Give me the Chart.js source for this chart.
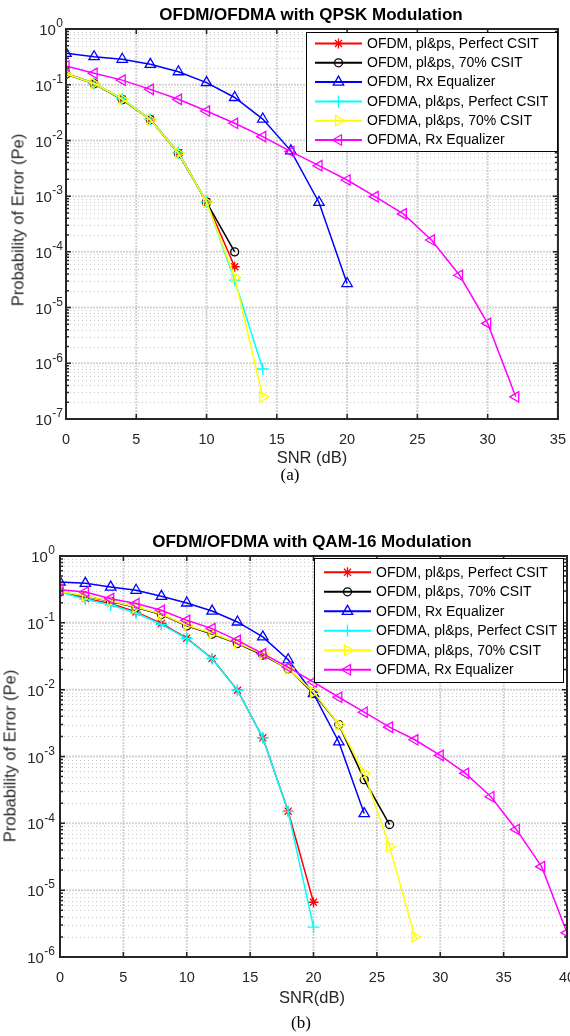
<!DOCTYPE html>
<html>
<head>
<meta charset="utf-8">
<script src="https://cdn.jsdelivr.net/npm/chart.js@4/dist/chart.umd.min.js"></script>
<style>
  html, body { margin:0; padding:0; background:#fff; width:570px; height:1036px; overflow:hidden; }
  .wrap { position:absolute; left:0; }
  .t { position:absolute; transform:translate(-50%,-50%); white-space:nowrap; font-family:"Liberation Sans", Arial, sans-serif; color:#262626; }
  .ttl { font-weight:bold; font-size:17px; color:#000; }
  .ax { font-size:16.5px; }
  .yl { transform:translate(-50%,-50%) rotate(-90deg); }
  .cap { font-family:"Liberation Serif", "Times New Roman", serif; font-size:17px; color:#000; }
</style>
</head>
<body>
<div class="wrap" style="top:0;width:570px;height:480px;"><canvas id="c1" width="570" height="480"></canvas></div>
<div class="wrap" style="top:520px;width:580px;height:500px;"><canvas id="c2" width="580" height="500"></canvas></div>

<div class="t ttl" style="left:311px;top:15px;">OFDM/OFDMA with QPSK Modulation</div>
<div class="t ax" style="left:312px;top:457px;">SNR (dB)</div>
<div class="t ax yl" style="left:18px;top:220px;">Probability of Error (Pe)</div>
<div class="t cap" style="left:290px;top:475px;">(a)</div>

<div class="t ttl" style="left:312px;top:542px;">OFDM/OFDMA with QAM-16 Modulation</div>
<div class="t ax" style="left:312px;top:997px;">SNR(dB)</div>
<div class="t ax yl" style="left:10px;top:756px;">Probability of Error (Pe)</div>
<div class="t cap" style="left:301px;top:1023px;">(b)</div>

<script>
// ---------------- DATA ----------------
const seriesLabels = ['OFDM, pl&ps, Perfect CSIT','OFDM, pl&ps, 70% CSIT','OFDM, Rx Equalizer',
                      'OFDMA, pl&ps, Perfect CSIT','OFDMA, pl&ps, 70% CSIT','OFDMA, Rx Equalizer'];
const snrQpsk = [0,2,4,6,8,10,12,14,16,18,20,22,24,26,28,30,32];
const qpskOfdmPerfect  = [0.16, 0.106, 0.055, 0.024, 0.006, 0.00079, 5.4e-5];
const qpskOfdm70       = [0.155, 0.104, 0.054, 0.0235, 0.0058, 0.00078, 1.0e-4];
const qpskOfdmRx       = [0.366, 0.318, 0.286, 0.232, 0.171, 0.109, 0.059, 0.0242, 0.0065, 0.00077, 2.7e-5];
const qpskOfdmaPerfect = [0.158, 0.105, 0.056, 0.0238, 0.006, 0.00079, 3.1e-5, 7.9e-7];
const qpskOfdma70      = [0.156, 0.105, 0.055, 0.0235, 0.0059, 0.00078, 3.5e-5, 2.5e-7];
const qpskOfdmaRx      = [0.217, 0.16, 0.121, 0.0826, 0.0547, 0.0337, 0.0203, 0.0117, 0.0063, 0.00352, 0.00195, 0.00098, 0.00048, 0.000163, 3.8e-5, 5.2e-6, 2.5e-7];

const snrQam = [0,2,4,6,8,10,12,14,16,18,20,22,24,26,28,30,32,34,36,38,40];
const qamOfdmPerfect  = [0.296, 0.232, 0.195, 0.145, 0.098, 0.059, 0.0293, 0.0098, 0.0019, 1.52e-4, 6.6e-6];
const qamOfdm70       = [0.29, 0.25, 0.21, 0.17, 0.133, 0.09, 0.068, 0.049, 0.033, 0.0205, 0.0088, 0.003, 4.5e-4, 9.6e-5];
const qamOfdmRx       = [0.408, 0.39, 0.343, 0.307, 0.249, 0.198, 0.150, 0.103, 0.0615, 0.028, 0.0087, 0.00165, 1.4e-4];
const qamOfdmaPerfect = [0.29, 0.225, 0.185, 0.14, 0.095, 0.058, 0.029, 0.0098, 0.0019, 1.5e-4, 2.8e-6];
const qamOfdma70      = [0.295, 0.252, 0.212, 0.172, 0.135, 0.092, 0.07, 0.05, 0.034, 0.0205, 0.0092, 0.003, 5.6e-4, 4.5e-5, 2.0e-6];
const qamOfdmaRx      = [0.314, 0.289, 0.23, 0.194, 0.154, 0.109, 0.082, 0.0547, 0.0346, 0.0218, 0.013, 0.0077, 0.0046, 0.00275, 0.00178, 0.00104, 5.6e-4, 2.5e-4, 8.1e-5, 2.25e-5, 2.3e-6];

const xTicksQpsk = [0,5,10,15,20,25,30,35];
const xTicksQam  = [0,5,10,15,20,25,30,35,40];

// ---------------- STYLES ----------------
const styles = [
  {color:'#ff0000', pointStyle:'star',     radius:5, rotation:0},
  {color:'#000000', pointStyle:'circle',   radius:4, rotation:0},
  {color:'#0000ff', pointStyle:'triangle', radius:6, rotation:0},
  {color:'#00ffff', pointStyle:'cross',    radius:6, rotation:0},
  {color:'#ffff00', pointStyle:'triangle', radius:6, rotation:90},
  {color:'#ff00ff', pointStyle:'triangle', radius:6, rotation:-90}
];

function makeDatasets(snr, seriesList) {
  return seriesList.map((vals, i) => ({
    label: seriesLabels[i],
    data: vals.map((v, k) => ({x: snr[k], y: v})),
    borderColor: styles[i].color,
    backgroundColor: 'rgba(0,0,0,0)',
    pointBorderColor: styles[i].color,
    pointBackgroundColor: 'rgba(0,0,0,0)',
    pointStyle: styles[i].pointStyle,
    pointRotation: styles[i].rotation,
    pointRadius: styles[i].radius,
    pointHoverRadius: styles[i].radius,
    pointBorderWidth: 1.3,
    borderWidth: 1.5,
    tension: 0,
    order: seriesList.length - i
  }));
}

function drawMarker(ctx, st, x, y) {
  const r = st.radius;
  ctx.save();
  ctx.strokeStyle = st.color;
  ctx.lineWidth = 1.3;
  ctx.beginPath();
  if (st.pointStyle === 'circle') {
    ctx.arc(x, y, r, 0, Math.PI*2);
  } else if (st.pointStyle === 'triangle') {
    let a = st.rotation * Math.PI/180;
    for (let k=0;k<3;k++) {
      const px = x + Math.sin(a)*r, py = y - Math.cos(a)*r;
      if (k===0) ctx.moveTo(px,py); else ctx.lineTo(px,py);
      a += 2*Math.PI/3;
    }
    ctx.closePath();
  } else if (st.pointStyle === 'cross') {
    ctx.moveTo(x-r,y); ctx.lineTo(x+r,y); ctx.moveTo(x,y-r); ctx.lineTo(x,y+r);
  } else if (st.pointStyle === 'star') {
    ctx.moveTo(x-r,y); ctx.lineTo(x+r,y); ctx.moveTo(x,y-r); ctx.lineTo(x,y+r);
    const d = r*Math.SQRT1_2;
    ctx.moveTo(x-d,y-d); ctx.lineTo(x+d,y+d); ctx.moveTo(x-d,y+d); ctx.lineTo(x+d,y-d);
  }
  ctx.stroke();
  ctx.restore();
}

const axisColor = '#262626';

const matlabAxes = {
  id: 'matlabAxes',
  beforeDatasetsDraw(chart, args, opts) {
    const ctx = chart.ctx, xs = chart.scales.x, ys = chart.scales.y, a = chart.chartArea;
    const dmin = Math.round(Math.log10(ys.min)), dmax = Math.round(Math.log10(ys.max));
    ctx.save();
    // minor horizontal grid
    ctx.strokeStyle = 'rgba(120,120,120,0.4)';
    ctx.lineWidth = 1;
    ctx.setLineDash([1,3]);
    for (let d = dmin; d < dmax; d++) {
      for (let m = 2; m <= 9; m++) {
        const y = Math.round(ys.getPixelForValue(m*Math.pow(10,d))) + 0.5;
        ctx.beginPath(); ctx.moveTo(a.left, y); ctx.lineTo(a.right, y); ctx.stroke();
      }
    }
    // major grid
    ctx.strokeStyle = 'rgba(170,170,170,0.5)';
    ctx.lineWidth = 2;
    ctx.setLineDash([2,1]);
    for (let d = dmin; d <= dmax; d++) {
      const y = ys.getPixelForValue(Math.pow(10,d));
      ctx.beginPath(); ctx.moveTo(a.left, y); ctx.lineTo(a.right, y); ctx.stroke();
    }
    xs.ticks.forEach(t => {
      const x = xs.getPixelForValue(t.value);
      ctx.beginPath(); ctx.moveTo(x, a.top); ctx.lineTo(x, a.bottom); ctx.stroke();
    });
    ctx.restore();
  },
  afterDatasetsDraw(chart, args, opts) {
    const ctx = chart.ctx, xs = chart.scales.x, ys = chart.scales.y, a = chart.chartArea;
    const dmin = Math.round(Math.log10(ys.min)), dmax = Math.round(Math.log10(ys.max));
    ctx.save();
    ctx.strokeStyle = axisColor;
    ctx.setLineDash([]);
    // ticks
    ctx.lineWidth = 1.5;
    for (let d = dmin; d <= dmax; d++) {
      for (let m = 1; m <= 9; m++) {
        if (d === dmax && m > 1) break;
        const y = ys.getPixelForValue(m*Math.pow(10,d));
        const len = m === 1 ? 5 : 3;
        ctx.beginPath();
        ctx.moveTo(a.left, y); ctx.lineTo(a.left+len, y);
        ctx.moveTo(a.right, y); ctx.lineTo(a.right-len, y);
        ctx.stroke();
      }
    }
    xs.ticks.forEach(t => {
      const x = xs.getPixelForValue(t.value);
      ctx.beginPath();
      ctx.moveTo(x, a.bottom); ctx.lineTo(x, a.bottom-5);
      ctx.moveTo(x, a.top); ctx.lineTo(x, a.top+5);
      ctx.stroke();
    });
    // box
    ctx.lineWidth = 2;
    ctx.strokeRect(a.left, a.top, a.right-a.left, a.bottom-a.top);
    ctx.restore();

    // y tick labels 10^n
    ctx.save();
    ctx.fillStyle = axisColor;
    for (let d = dmin; d <= dmax; d++) {
      const y = ys.getPixelForValue(Math.pow(10,d));
      const exp = String(d);
      ctx.font = '12px "Liberation Sans", Arial, sans-serif';
      const ew = ctx.measureText(exp).width;
      const xr = a.left - opts.labelGap;
      ctx.textBaseline = 'middle';
      ctx.textAlign = 'left';
      ctx.fillText(exp, xr - ew, y - 5);
      ctx.font = '15px "Liberation Sans", Arial, sans-serif';
      ctx.textAlign = 'right';
      ctx.fillText('10', xr - ew - 0.5, y + 2);
    }
    ctx.restore();

    // legend
    const L = opts.legend;
    ctx.save();
    ctx.fillStyle = '#ffffff';
    ctx.fillRect(L.x, L.y, L.w, L.h);
    ctx.strokeStyle = '#000';
    ctx.lineWidth = 1;
    ctx.strokeRect(L.x + 0.5, L.y + 0.5, L.w, L.h);
    chart.data.datasets.forEach((ds, i) => {
      const st = styles[i];
      const y = L.row0 + i * L.dy;
      ctx.strokeStyle = st.color;
      ctx.lineWidth = 2;
      ctx.beginPath(); ctx.moveTo(L.x1, y); ctx.lineTo(L.x2, y); ctx.stroke();
      drawMarker(ctx, st, (L.x1 + L.x2)/2, y);
      ctx.fillStyle = '#000';
      ctx.font = '14px "Liberation Sans", Arial, sans-serif';
      ctx.textAlign = 'left';
      ctx.textBaseline = 'middle';
      ctx.fillText(ds.label, L.tx, y + 0.5);
    });
    ctx.restore();
  }
};

function makeChart(id, snr, seriesList, xMax, xTickVals, yMin, pad, yW, xH, labelGap, legend) {
  return new Chart(document.getElementById(id), {
    type: 'line',
    data: { datasets: makeDatasets(snr, seriesList) },
    options: {
      responsive: false,
      animation: false,
      events: [],
      layout: { padding: pad },
      plugins: { legend: {display:false}, title: {display:false}, tooltip: {enabled:false},
                 matlabAxes: { labelGap: labelGap, legend: legend } },
      scales: {
        x: {
          type: 'linear', min: 0, max: xMax,
          afterBuildTicks: (s) => { s.ticks = xTickVals.map(v => ({value: v})); },
          afterFit: (s) => { s.height = xH; },
          grid: { display: false },
          border: { display: false },
          ticks: { color: axisColor, padding: 4, maxRotation: 0, autoSkip: false,
                   font: { family: '"Liberation Sans", Arial, sans-serif', size: 14.5 } }
        },
        y: {
          type: 'logarithmic', min: yMin, max: 1,
          afterFit: (s) => { s.width = yW; },
          grid: { display: false },
          border: { display: false },
          ticks: { display: false }
        }
      }
    },
    plugins: [matlabAxes]
  });
}

makeChart('c1', snrQpsk,
  [qpskOfdmPerfect, qpskOfdm70, qpskOfdmRx, qpskOfdmaPerfect, qpskOfdma70, qpskOfdmaRx],
  35, xTicksQpsk, 1e-7, {top:29, right:11, left:0, bottom:0}, 66, 61, 3,
  {x:306, y:32, w:251, h:119, row0:43.5, dy:19.3, x1:315, x2:362, tx:367});

makeChart('c2', snrQam,
  [qamOfdmPerfect, qamOfdm70, qamOfdmRx, qamOfdmaPerfect, qamOfdma70, qamOfdmaRx],
  40, xTicksQam, 1e-6, {top:36, right:13, left:0, bottom:0}, 60, 63, 5,
  {x:314, y:38, w:249, h:124, row0:52.3, dy:19.5, x1:324, x2:371, tx:376});
</script>
</body>
</html>
